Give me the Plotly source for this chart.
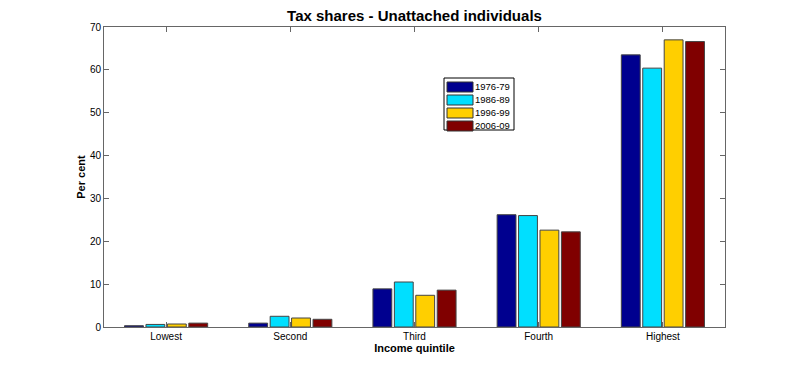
import plotly.graph_objects as go

categories = ["Lowest", "Second", "Third", "Fourth", "Highest"]
series_names = ["1976-79", "1986-89", "1996-99", "2006-09"]
v1976 = [0.3, 0.9, 8.9, 26.2, 63.5]
v1986 = [0.6, 2.5, 10.5, 26.0, 60.4]
v1996 = [0.7, 2.1, 7.4, 22.6, 67.0]
v2006 = [0.9, 1.8, 8.6, 22.2, 66.6]
colors = ["#00008F", "#00DFFF", "#FFCF00", "#800000"]

fig = go.Figure()
for name, vals, c in zip(series_names, [v1976, v1986, v1996, v2006], colors):
    fig.add_trace(go.Bar(x=categories, y=vals, name=name, marker_color=c,
                         marker_line=dict(color="#444444", width=1), showlegend=False))

font = "Liberation Sans, Arial, sans-serif"

# plot area in page pixels (the page body adds an 8px offset, compensated in margins)
PX0, PX1, PY0, PY1 = 104, 725, 27, 327
def px(X):
    return (X - PX0) / (PX1 - PX0)
def py(Y):
    return (PY1 - Y) / (PY1 - PY0)

# MATLAB-style legend box with wide swatches
shapes = [dict(type="rect", xref="paper", yref="paper",
               x0=px(444), x1=px(514), y0=py(130), y1=py(78),
               line=dict(color="black", width=1), fillcolor="white", layer="above")]
annotations = []
for i, (name, c) in enumerate(zip(series_names, colors)):
    yc = 87 + 13 * i
    shapes.append(dict(type="rect", xref="paper", yref="paper",
                       x0=px(447), x1=px(473), y0=py(yc + 5), y1=py(yc - 5),
                       line=dict(color="#333333", width=1), fillcolor=c, layer="above"))
    annotations.append(dict(text=name, xref="paper", yref="paper",
                            x=px(473), y=py(yc), xanchor="left", yanchor="middle",
                            showarrow=False, font=dict(size=9.5, family=font, color="black")))

fig.update_layout(
    width=800, height=368,
    margin=dict(l=96, r=83, t=19, b=49),
    paper_bgcolor="white", plot_bgcolor="white",
    barmode="group", bargap=0.31, bargroupgap=0.12,
    font=dict(family=font, size=10, color="black"),
    title=dict(text="<b>Tax shares - Unattached individuals</b>", x=0.5, xref="paper",
               xanchor="center", y=1 - 2 / 368, yanchor="top", pad=dict(t=0, b=0),
               font=dict(size=15, family=font)),
    shapes=shapes, annotations=annotations,
    showlegend=False,
)
fig.update_xaxes(
    range=[-0.5, 4.5], showline=True, linecolor="#666666", linewidth=1, mirror="ticks",
    ticks="inside", ticklen=5, tickcolor="#666666", showgrid=False,
    title=dict(text="<b>Income quintile</b>", standoff=2, font=dict(size=11)),
    tickfont=dict(size=10),
)
fig.update_yaxes(
    range=[0, 70], dtick=10, showline=True, linecolor="#666666", linewidth=1, mirror="ticks",
    ticks="inside", ticklen=5, tickcolor="#666666", showgrid=False, zeroline=False,
    title=dict(text="<b>Per cent</b>", standoff=2, font=dict(size=11)),
    tickfont=dict(size=10),
)
fig.write_html("out.html")
